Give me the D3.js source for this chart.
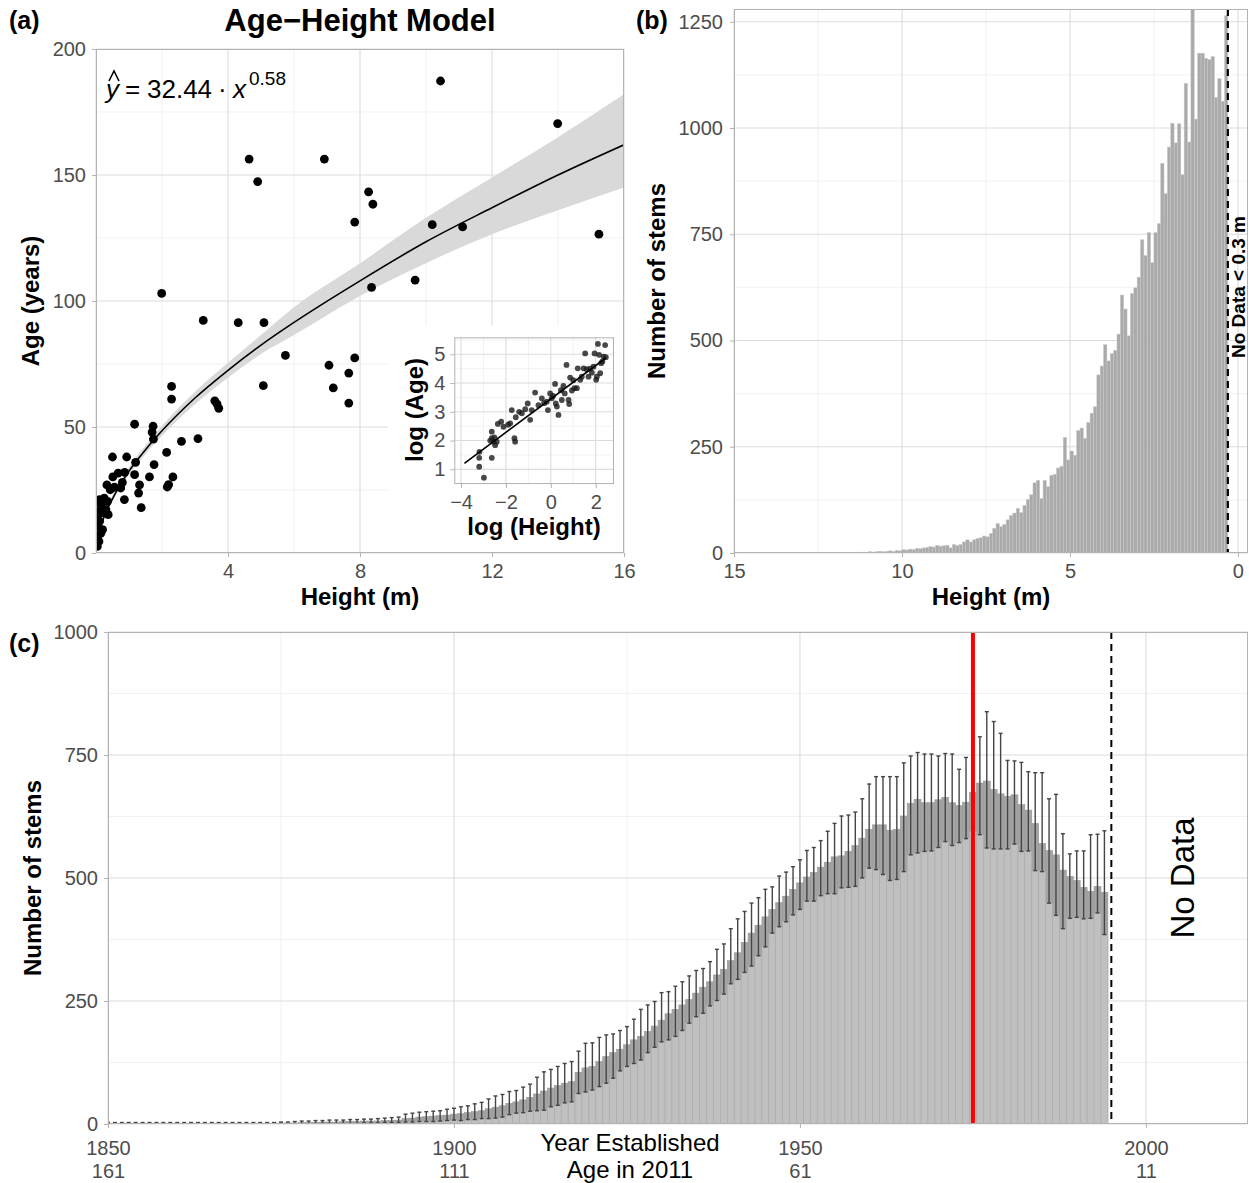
<!DOCTYPE html>
<html>
<head>
<meta charset="utf-8">
<script src="https://cdn.jsdelivr.net/npm/d3@7"></script>
<title>Age-Height Model and stem counts</title>
<style>
body { margin: 0; background: #fff; }
svg {
  display: block;
  font-family: "Liberation Sans", Arial, Helvetica, sans-serif;
}
.axis-title { font-weight: bold; font-size: 24px; fill: #000; }
.panel-tag { font-weight: bold; font-size: 25px; fill: #000; }
</style>
</head>
<body>
<svg width="1249" height="1183"></svg>
<script>

const treeHeight = [10.44,13.99,4.64,6.92,4.90,8.26,8.39,7.84,10.19,11.11,
  15.24,1.99,9.67,8.35,3.25,4.31,5.09,5.74,7.06,7.84,
  7.66,7.19,5.07,7.66,2.29,2.29,3.60,3.67,3.72,2.59,
  3.09,2.14,1.73,1.70,1.74,1.17,1.76,1.62,1.20,1.17,
  2.33,2.20,2.16,0.93,0.50,1.32,1.29,1.37,0.86,0.80,
  0.67,0.87,0.51,0.33,0.56,0.75,0.43,0.25,0.11,0.35,
  0.15,0.30,0.09,0.37,0.04,0.11,0.06,0.15,0.06,0.09,
  0.04,0.20,0.22];
const treeAge = [187.3,170.4,156.3,156.3,147.4,143.3,138.4,131.3,130.3,129.4,
  126.5,103.0,108.3,105.4,92.3,91.4,91.4,78.4,74.5,77.4,
  71.4,65.5,66.4,59.5,66.1,61.1,60.4,59.1,57.4,44.3,
  45.4,39.9,50.3,48.0,45.2,51.1,35.1,30.2,36.0,31.1,
  30.2,27.1,26.2,38.1,38.1,27.0,23.8,18.0,21.2,28.0,
  31.7,32.0,30.2,27.0,26.1,25.8,25.1,21.8,21.2,20.5,
  19.2,17.2,16.5,15.2,14.6,12.6,10.6,7.9,6.6,4.6,
  2.6,9.3,15.9];

// fitted curve and its band, read at a few heights
const fitHeight = [0.02,0.1,0.25,0.5,1,1.5,2,3,4,5,6,8,10,12,14,16];
const fitAge    = [3,8.5,14.5,21.5,32.5,41,48.5,61.5,72.5,82.5,91.5,108,123.5,137,150,162];
const fitLow    = [2.9,7.8,13.6,20.5,31,39.3,46.5,59,69.5,79,86.5,102,115,126.5,136,145];
const fitHigh   = [3.8,9.3,15.5,22.9,34,42.8,50.5,64,75.5,86.5,97.5,115,133,149,165,182];
const equationCoef = "32.44", equationExp = "0.58";

// inset: log-log view
const logHeight = [-2.98,-3.19,-3.19,-3.18,-2.63,-2.63,-2.63,-2.56,-2.48,-2.41,
  -2.51,-2.36,-2.21,-2.11,-1.81,-1.74,-1.62,-1.59,-1.56,-1.41,
  -1.29,-1.14,-1.03,-0.92,-0.85,-0.70,-0.55,-0.40,-0.18,-0.13,
  -0.03,0.04,0.19,0.22,0.27,0.34,0.49,0.56,0.62,0.70,
  0.79,0.82,0.86,0.94,1.05,1.16,1.20,1.31,1.46,1.53,
  1.60,1.68,1.83,1.90,1.95,2.02,2.05,2.10,2.15,2.24,
  2.35,2.42,2.45,2.20,1.38,-1.90,-0.30,0.10,1.00,1.75,2.30,-2.70,0.45];
const logAge = [0.71,1.09,1.40,1.61,1.40,2.31,2.08,1.96,1.84,1.96,
  2.11,2.58,2.66,2.48,2.60,3.06,2.08,1.96,2.81,3.00,
  2.95,3.09,3.29,2.72,3.06,3.67,3.23,3.47,3.35,3.06,
  3.64,3.47,3.97,3.29,3.18,2.89,3.41,3.90,3.64,4.63,
  3.41,3.27,4.19,3.74,3.82,3.82,4.51,4.11,4.51,5.03,
  4.48,4.22,4.36,4.57,5.03,4.11,4.22,5.36,4.98,4.69,
  4.92,5.32,4.90,4.34,4.22,2.55,3.30,3.55,4.10,4.50,4.75,2.00,3.75];
const logFitX = [-3.85, 2.45];
const logFitY = [1.21, 4.87];

// ---- panel (b): stems per 0.1 m height class, starting at 0.3 m
const binStart = 0.3, binWidth = 0.1;
const stemCounts = [1264,1063,1116,1072,1168,1161,1164,1176,1176,1021,
  1300,967,1105,890,1010,965,1011,955,846,917,
  775,754,683,754,700,737,649,624,611,511,
  574,607,515,477,469,452,490,440,419,344,
  329,307,270,294,288,230,240,219,272,204,
  200,185,183,156,171,128,171,165,137,126,
  112,95,105,94,88,78,67,62,69,58,
  46,38,40,36,34,31,26,31,26,20,
  18,20,12,18,17,16,18,14,15,13,
  12,10,11,8,9,7,8,5,6,4,
  5,4,3,4,3,2,3,2,2,1,
  2,1,1,1,0,1,0,1];
const noDataHeight = 0.3;

// ---- panel (c): stems per establishment year
const estYears = d3.range(1850, 1995);
const estMean = [1,1,1,1,1,1,1,1,1,1,
  1,1,1,1,1,1,1,1,1,1,
  1,1,1,1,1,2,2,2,3,3,
  3,4,4,4,5,5,5,6,6,6,
  7,7,8,11,12,14,15,16,17,18,
  20,21,23,25,27,31,34,37,42,45,
  49,54,61,67,73,78,83,86,105,114,
  117,127,137,145,152,161,171,178,188,199,
  211,224,233,242,253,266,278,289,303,314,
  332,348,369,388,404,421,436,450,463,477,
  490,502,511,522,532,543,545,554,566,581,
  599,608,608,597,599,626,652,660,653,653,
  659,664,653,647,654,674,693,697,680,671,
  666,669,649,638,611,570,556,547,516,503,
  495,481,473,483,471];
const estLow = [0,0,0,0,0,0,0,0,0,0,
  0,0,0,0,0,0,0,0,0,0,
  0,0,0,0,0,0,0,0,0,0,
  1,1,1,1,1,1,1,2,2,2,
  3,3,3,4,4,5,5,5,6,7,
  8,7,9,9,11,11,12,14,19,22,
  23,26,27,28,35,38,43,45,62,65,
  69,76,83,93,108,117,123,130,145,156,
  167,171,178,190,205,218,225,240,251,264,
  285,294,308,321,342,360,388,401,411,425,
  436,453,453,464,468,468,480,481,483,500,
  520,517,507,495,497,513,547,551,554,555,
  562,574,566,572,580,595,588,561,559,559,
  559,569,554,555,515,513,449,424,397,418,
  420,417,418,429,385];
const estHigh = [3,3,3,3,3,3,3,3,3,3,
  3,3,3,3,3,3,3,3,3,3,
  3,3,3,3,3,4,4,5,6,6,
  7,7,8,8,8,9,9,10,10,11,
  12,13,14,20,22,24,25,26,27,30,
  32,35,37,41,44,51,57,60,66,68,
  75,81,95,106,111,117,123,127,148,164,
  165,176,181,183,190,198,213,233,242,249,
  267,269,280,289,301,312,316,330,355,366,
  397,417,432,449,460,477,482,504,512,523,
  537,556,562,576,595,611,626,628,634,661,
  691,706,706,706,706,734,748,755,752,752,
  748,753,752,721,745,759,787,838,818,794,
  739,738,735,716,714,714,661,670,590,549,
  555,555,588,589,596];
const referenceYear = 1975;
const dataEndYear = 1995;
const yearTicks = [1850, 1900, 1950, 2000];
const ageTickLabels = ["161", "111", "61", "11"];

const svg = d3.select("svg");
svg.append("rect").attr("width", 1249).attr("height", 1183).attr("fill", "#fff");
const defs = svg.append("defs");

function drawGrid(g, x, y, xMajor, xMinor, yMajor, yMinor) {
  const [y0, y1] = y.range(), [x0, x1] = x.range();
  function add(vals, vertical, w, col) {
    g.append("g").selectAll("line").data(vals).join("line")
      .attr("x1", d => vertical ? x(d) : x0).attr("x2", d => vertical ? x(d) : x1)
      .attr("y1", d => vertical ? y0 : y(d)).attr("y2", d => vertical ? y1 : y(d))
      .attr("stroke", col).attr("stroke-width", w);
  }
  add(xMinor, true, 0.6, "#e9e9e9");
  add(yMinor, false, 0.6, "#e9e9e9");
  add(xMajor, true, 1.1, "#dcdcdc");
  add(yMajor, false, 1.1, "#dcdcdc");
}

function styleAxis(sel) {
  sel.attr("font-size", null).attr("font-family", null);
  sel.select(".domain").remove();
  sel.selectAll(".tick line").attr("stroke", "#b3b3b3").attr("stroke-width", 1);
  sel.selectAll(".tick text").attr("fill", "#4d4d4d").style("font-size", "20px");
}

function drawBorder(g, x, y) {
  const xs = x.range(), ys = y.range();
  g.append("rect")
    .attr("x", Math.min(...xs) + 0.5).attr("y", Math.min(...ys) + 0.5)
    .attr("width", Math.abs(xs[1] - xs[0]) - 1).attr("height", Math.abs(ys[1] - ys[0]) - 1)
    .attr("fill", "none").attr("stroke", "#b3b3b3").attr("stroke-width", 1);
}

function clipFor(id, x, y) {
  const xs = x.range(), ys = y.range();
  defs.append("clipPath").attr("id", id).append("rect")
    .attr("x", Math.min(...xs)).attr("y", Math.min(...ys))
    .attr("width", Math.abs(xs[1] - xs[0])).attr("height", Math.abs(ys[1] - ys[0]));
  return "url(#" + id + ")";
}

const plain = d => d < 0 ? "\u2212" + Math.abs(d) : String(d);

// ================= panel (a)
function drawPanelA() {
  const g = svg.append("g");
  const x = d3.scaleLinear().domain([0, 16]).range([96, 624]);
  const y = d3.scaleLinear().domain([0, 200]).range([553, 49]);

  drawGrid(g, x, y, [0, 4, 8, 12, 16], [2, 6, 10, 14], [0, 50, 100, 150, 200], [25, 75, 125, 175]);

  const plot = g.append("g").attr("clip-path", clipFor("clipA", x, y));
  const band = d3.area()
    .x((d, i) => x(fitHeight[i])).y0((d, i) => y(fitLow[i])).y1((d, i) => y(fitHigh[i]))
    .curve(d3.curveMonotoneX);
  plot.append("path").datum(fitHeight).attr("d", band).attr("fill", "#d9d9d9");
  const fit = d3.line().x((d, i) => x(fitHeight[i])).y((d, i) => y(fitAge[i])).curve(d3.curveMonotoneX);
  plot.append("path").datum(fitHeight).attr("d", fit)
    .attr("fill", "none").attr("stroke", "#000").attr("stroke-width", 1.6);
  plot.append("g").selectAll("circle").data(treeHeight).join("circle")
    .attr("cx", d => x(d)).attr("cy", (d, i) => y(treeAge[i])).attr("r", 4.4).attr("fill", "#000");

  g.append("g").attr("transform", "translate(0,553)")
    .call(d3.axisBottom(x).tickValues([4, 8, 12, 16]).tickFormat(plain).tickSize(4).tickPadding(7))
    .call(styleAxis);
  g.append("g").attr("transform", "translate(96,0)")
    .call(d3.axisLeft(y).tickValues([0, 50, 100, 150, 200]).tickFormat(plain).tickSize(4).tickPadding(6))
    .call(styleAxis);

  // equation
  const eq = g.append("g").attr("font-size", 26).attr("fill", "#000");
  eq.append("text").attr("x", 106).attr("y", 98).attr("font-style", "italic").text("y");
  eq.append("path").attr("d", "M109,81 L114,71 L119,81").attr("fill", "none")
    .attr("stroke", "#000").attr("stroke-width", 1.6);
  eq.append("text").attr("x", 125).attr("y", 98).text("=");
  eq.append("text").attr("x", 147).attr("y", 98).text(equationCoef);
  eq.append("text").attr("x", 218).attr("y", 98).text("\u00b7");
  eq.append("text").attr("x", 233).attr("y", 98).attr("font-style", "italic").text("x");
  eq.append("text").attr("x", 249).attr("y", 85).attr("font-size", 19).text(equationExp);

  // inset
  g.append("rect").attr("x", 388).attr("y", 326).attr("width", 236).attr("height", 226).attr("fill", "#fff");
  const ix = d3.scaleLinear().domain([-4.3, 2.815]).range([454.3, 614]);
  const iy = d3.scaleLinear().domain([0.49, 5.59]).range([484, 337.3]);
  drawGrid(g, ix, iy, [-4, -2, 0, 2], [-3, -1, 1], [1, 2, 3, 4, 5], [0.5, 1.5, 2.5, 3.5, 4.5, 5.5]);
  const ip = g.append("g").attr("clip-path", clipFor("clipInset", ix, iy));
  ip.append("g").selectAll("circle").data(logHeight).join("circle")
    .attr("cx", d => ix(d)).attr("cy", (d, i) => iy(logAge[i])).attr("r", 2.9)
    .attr("fill", "#1a1a1a").attr("fill-opacity", 0.8);
  ip.append("path").datum(logFitX)
    .attr("d", d3.line().x(d => ix(d)).y((d, i) => iy(logFitY[i])))
    .attr("stroke", "#000").attr("stroke-width", 1.6).attr("fill", "none");
  drawBorder(g, ix, iy);
  g.append("g").attr("transform", "translate(0,484)")
    .call(d3.axisBottom(ix).tickValues([-4, -2, 0, 2]).tickFormat(plain).tickSize(4).tickPadding(7))
    .call(styleAxis);
  g.append("g").attr("transform", "translate(454.3,0)")
    .call(d3.axisLeft(iy).tickValues([1, 2, 3, 4, 5]).tickFormat(plain).tickSize(4).tickPadding(5))
    .call(styleAxis);
  g.append("text").attr("class", "axis-title").attr("text-anchor", "middle")
    .attr("x", 534).attr("y", 535).text("log (Height)");
  g.append("text").attr("class", "axis-title").attr("text-anchor", "middle")
    .attr("transform", "translate(423,410) rotate(-90)").text("log (Age)");

  drawBorder(g, x, y);

  g.append("text").attr("x", 360).attr("y", 31).attr("text-anchor", "middle")
    .attr("font-weight", "bold").attr("font-size", 31).text("Age\u2212Height Model");
  g.append("text").attr("class", "panel-tag").attr("x", 9).attr("y", 29).text("(a)");
  g.append("text").attr("class", "axis-title").attr("text-anchor", "middle")
    .attr("x", 360).attr("y", 605).text("Height (m)");
  g.append("text").attr("class", "axis-title").attr("text-anchor", "middle")
    .attr("transform", "translate(39,301) rotate(-90)").text("Age (years)");
}

// ================= panel (b)
function drawPanelB() {
  const g = svg.append("g");
  const x = d3.scaleLinear().domain([15, -0.3]).range([734, 1248]);
  const y = d3.scaleLinear().domain([0, 1280]).range([553, 9]);

  drawGrid(g, x, y, [15, 10, 5, 0], [12.5, 7.5, 2.5],
    [0, 250, 500, 750, 1000, 1250], [125, 375, 625, 875, 1125]);

  const plot = g.append("g").attr("clip-path", clipFor("clipB", x, y));
  plot.append("g").selectAll("rect").data(stemCounts).join("rect")
    .attr("x", (d, i) => x(binStart + (i + 1) * binWidth))
    .attr("width", (d, i) => x(binStart + i * binWidth) - x(binStart + (i + 1) * binWidth))
    .attr("y", d => y(d)).attr("height", d => y(0) - y(d))
    .attr("fill", "#aaaaaa").attr("stroke", "#c9c9c9").attr("stroke-width", 0.5);

  plot.append("line").attr("x1", x(noDataHeight)).attr("x2", x(noDataHeight))
    .attr("y1", y.range()[1]).attr("y2", y.range()[0])
    .attr("stroke", "#000").attr("stroke-width", 2.2).attr("stroke-dasharray", "7,5");

  g.append("g").attr("transform", "translate(0,553)")
    .call(d3.axisBottom(x).tickValues([15, 10, 5, 0]).tickFormat(plain).tickSize(4).tickPadding(7))
    .call(styleAxis);
  g.append("g").attr("transform", "translate(734,0)")
    .call(d3.axisLeft(y).tickValues([0, 250, 500, 750, 1000, 1250]).tickFormat(plain).tickSize(4).tickPadding(7))
    .call(styleAxis);

  drawBorder(g, x, y);

  g.append("text").attr("font-weight", "bold").attr("font-size", 19).attr("text-anchor", "middle")
    .attr("transform", "translate(1245,287) rotate(-90)").text("No Data < 0.3 m");
  g.append("text").attr("class", "panel-tag").attr("x", 636).attr("y", 29).text("(b)");
  g.append("text").attr("class", "axis-title").attr("text-anchor", "middle")
    .attr("x", 991).attr("y", 605).text("Height (m)");
  g.append("text").attr("class", "axis-title").attr("text-anchor", "middle")
    .attr("transform", "translate(665,281) rotate(-90)").text("Number of stems");
}

// ================= panel (c)
function drawPanelC() {
  const g = svg.append("g");
  const x = d3.scaleLinear().domain([1850, 2014.75]).range([108, 1248]);
  const y = d3.scaleLinear().domain([0, 1000]).range([1124, 632]);
  const bw = x(1851) - x(1850);

  drawGrid(g, x, y, yearTicks, [1875, 1925, 1975],
    [0, 250, 500, 750, 1000], [125, 375, 625, 875]);

  const plot = g.append("g").attr("clip-path", clipFor("clipC", x, y));
  plot.append("g").selectAll("rect").data(estYears).join("rect")
    .attr("x", d => x(d) - bw / 2).attr("width", bw)
    .attr("y", (d, i) => y(estMean[i])).attr("height", (d, i) => y(0) - y(estMean[i]))
    .attr("fill", "#a4a4a4").attr("stroke", "#979797").attr("stroke-width", 0.6);
  plot.append("g").selectAll("rect").data(estYears).join("rect")
    .attr("x", d => x(d) - bw / 2).attr("width", bw)
    .attr("y", (d, i) => y(estLow[i])).attr("height", (d, i) => y(0) - y(estLow[i]))
    .attr("fill", "#c0c0c0").attr("stroke", "#acacac").attr("stroke-width", 0.6);

  const err = plot.append("g").attr("stroke", "#454545").attr("stroke-width", 1.4);
  err.selectAll(".v").data(estYears).join("line").attr("class", "v")
    .attr("x1", d => x(d)).attr("x2", d => x(d))
    .attr("y1", (d, i) => y(estLow[i])).attr("y2", (d, i) => y(estHigh[i]));
  err.selectAll(".hi").data(estYears).join("line").attr("class", "hi")
    .attr("x1", d => x(d) - 2).attr("x2", d => x(d) + 2)
    .attr("y1", (d, i) => y(estHigh[i])).attr("y2", (d, i) => y(estHigh[i]));
  err.selectAll(".lo").data(estYears).join("line").attr("class", "lo")
    .attr("x1", d => x(d) - 2).attr("x2", d => x(d) + 2)
    .attr("y1", (d, i) => y(estLow[i])).attr("y2", (d, i) => y(estLow[i]));

  plot.append("line").attr("x1", x(referenceYear)).attr("x2", x(referenceYear))
    .attr("y1", 632).attr("y2", 1124).attr("stroke", "#ff0000").attr("stroke-width", 4);
  plot.append("line").attr("x1", x(dataEndYear)).attr("x2", x(dataEndYear))
    .attr("y1", 632).attr("y2", 1124)
    .attr("stroke", "#000").attr("stroke-width", 2).attr("stroke-dasharray", "7,5");

  g.append("g").attr("transform", "translate(0,1124)")
    .call(d3.axisBottom(x).tickValues(yearTicks).tickFormat(plain).tickSize(4).tickPadding(13))
    .call(styleAxis)
    .selectAll(".tick text").each(function (d, i) {
      const t = d3.select(this).text(null);
      t.append("tspan").attr("x", 0).text(d);
      t.append("tspan").attr("x", 0).attr("dy", "1.15em").text(ageTickLabels[i]);
    });
  g.append("g").attr("transform", "translate(108,0)")
    .call(d3.axisLeft(y).tickValues([0, 250, 500, 750, 1000]).tickFormat(plain).tickSize(4).tickPadding(6))
    .call(styleAxis);

  drawBorder(g, x, y);

  g.append("text").attr("font-size", 33).attr("text-anchor", "middle")
    .attr("transform", "translate(1194,878) rotate(-90)").text("No Data");
  g.append("text").attr("font-size", 24).attr("text-anchor", "middle")
    .attr("x", 630).attr("y", 1151).text("Year Established");
  g.append("text").attr("font-size", 24).attr("text-anchor", "middle")
    .attr("x", 630).attr("y", 1178).text("Age in 2011");
  g.append("text").attr("class", "panel-tag").attr("x", 9).attr("y", 652).text("(c)");
  g.append("text").attr("class", "axis-title").attr("text-anchor", "middle")
    .attr("transform", "translate(41,878) rotate(-90)").text("Number of stems");
}

drawPanelA();
drawPanelB();
drawPanelC();

</script>
</body>
</html>
